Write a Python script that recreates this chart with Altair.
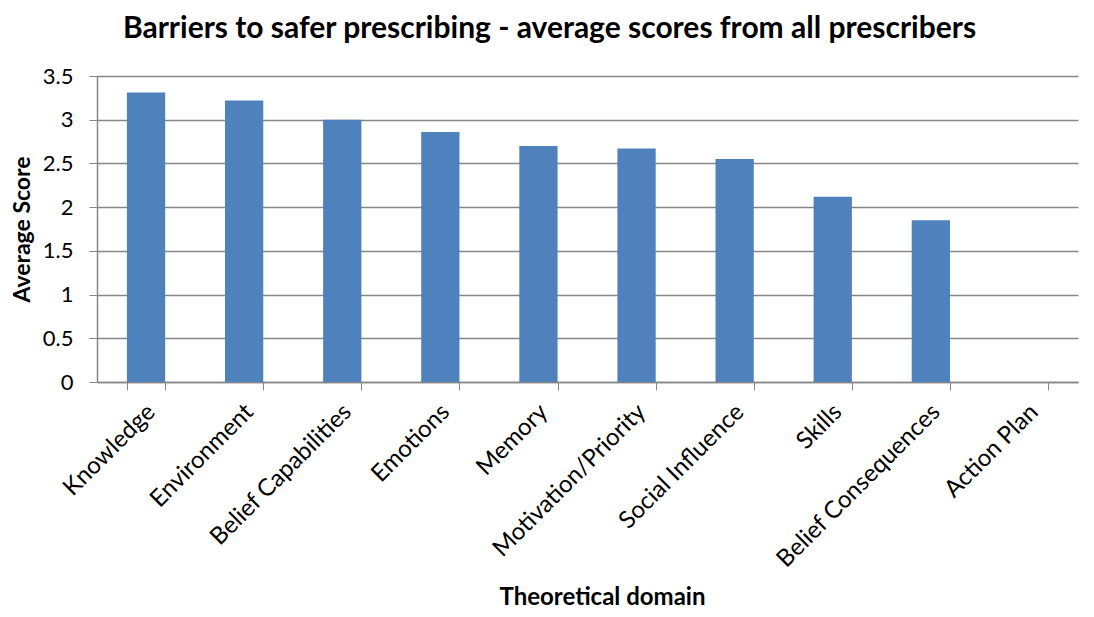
import altair as alt
import pandas as pd

domains = ["Knowledge", "Environment", "Belief Capabilities", "Emotions", "Memory",
           "Motivation/Priority", "Social Influence", "Skills", "Belief Consequences", "Action Plan"]
scores = [3.31, 3.22, 3.0, 2.86, 2.70, 2.67, 2.55, 2.12, 1.85, 0.0]

df = pd.DataFrame({"domain": domains, "score": scores})

FONT = "Lato"

chart = alt.Chart(df).mark_bar(color="#4F81BD").encode(
    x=alt.X("domain:N", sort=domains,
            scale=alt.Scale(paddingInner=0.61, paddingOuter=0.305),
            axis=alt.Axis(title="Theoretical domain", labelAngle=-45, labelAlign="right",
                          labelBaseline="middle", labelFontSize=24, labelFont=FONT,
                          labelColor="black", labelPadding=18, labelOverlap=False,
                          labelLimit=400, labelOffset=5,
                          tickBand="extent", tickSize=8, tickColor="#868686",
                          domainColor="#868686", domainWidth=1.5,
                          titleFont=FONT, titleFontSize=24, titleFontWeight="bold",
                          titleColor="black", titlePadding=14, titleX=505, titleAlign="center")),
    y=alt.Y("score:Q", scale=alt.Scale(domain=[0, 3.5]),
            axis=alt.Axis(title="Average Score", values=[0, 0.5, 1, 1.5, 2, 2.5, 3, 3.5],
                          format="~g", labelFontSize=22, labelFont=FONT, labelColor="black",
                          tickSize=8, tickColor="#868686", domainColor="#868686",
                          domainWidth=1.5, gridColor="#868686", gridWidth=1.5,
                          labelPadding=16,
                          titleFont=FONT, titleFontSize=23, titleFontWeight="bold",
                          titleColor="black", titlePadding=8)),
).properties(
    width=981, height=306,
    title=alt.TitleParams("Barriers to safer prescribing - average scores from all prescribers",
                          font=FONT, fontSize=30, fontWeight="bold", color="black",
                          anchor="middle", dx=-38, offset=21),
    autosize=alt.AutoSizeParams(type="none"),
    padding={"left": 89, "top": 68, "right": 8, "bottom": 227},
).configure_view(stroke=None)

chart.save("out.html", embed_options={"renderer": "svg", "actions": False})
